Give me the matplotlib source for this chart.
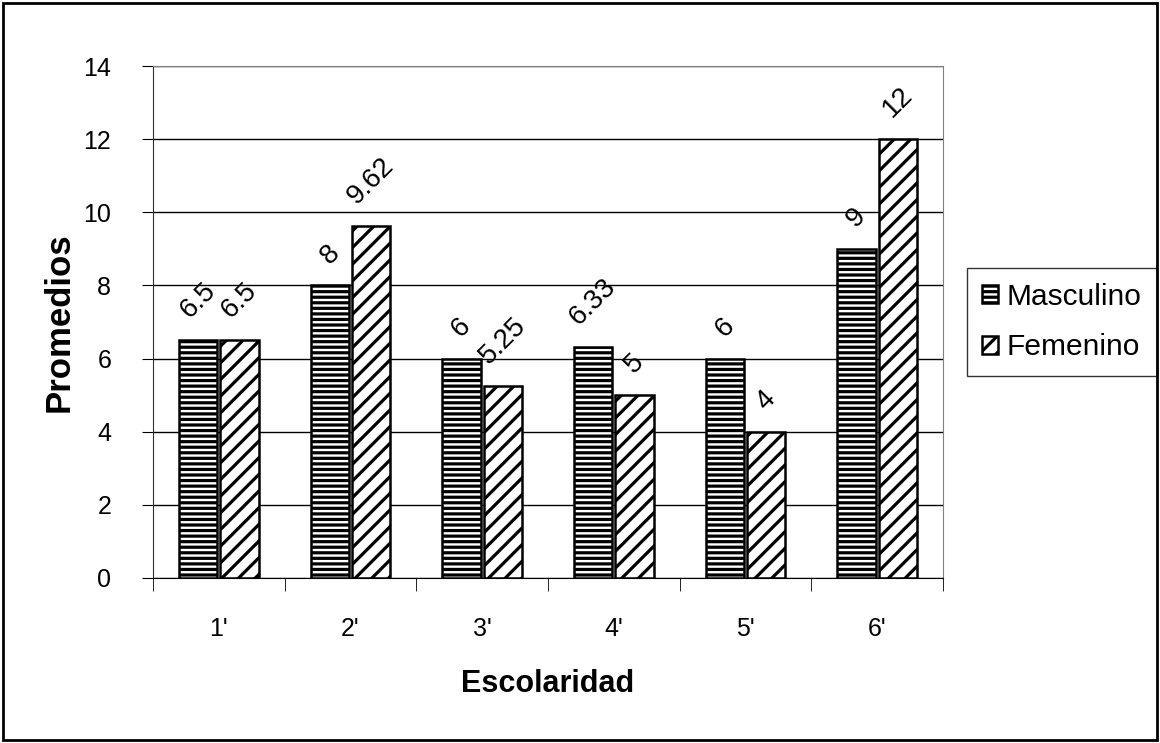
import numpy as np
import matplotlib.pyplot as plt
from matplotlib.patches import Rectangle

plt.rcParams['font.family'] = ['Liberation Sans', 'DejaVu Sans']
plt.rcParams['hatch.linewidth'] = 2.3

categorias = ["1'", "2'", "3'", "4'", "5'", "6'"]
masculino = [6.5, 8, 6, 6.33, 6, 9]
femenino = [6.5, 9.62, 5.25, 5, 4, 12]
etiq_masc = ["6.5", "8", "6", "6.33", "6", "9"]
etiq_fem = ["6.5", "9.62", "5.25", "5", "4", "12"]

fig = plt.figure(figsize=(11.6, 7.43), dpi=100)
ax = fig.add_axes([0.1319, 0.2221, 0.681, 0.689])

x = np.arange(len(categorias))
w = 0.29
gap = 0.012
b1 = ax.bar(x - w / 2 - gap, masculino, w, color='white', edgecolor='black',
            hatch='---', linewidth=1.8, label='Masculino', zorder=3)
b2 = ax.bar(x + w / 2 + gap, femenino, w, color='white', edgecolor='black',
            hatch='//', linewidth=1.8, label='Femenino', zorder=3)

for bars, labels in ((b1, etiq_masc), (b2, etiq_fem)):
    for r, t in zip(bars, labels):
        ax.annotate(t, (r.get_x() + r.get_width() / 2, r.get_height()),
                    xytext=(0, 12), textcoords='offset points',
                    ha='center', va='bottom', rotation=45, fontsize=20)

ax.set_ylim(0, 14)
ax.set_xlim(-0.5, len(categorias) - 0.5)
ax.set_yticks(np.arange(0, 15, 2))
ax.yaxis.grid(True, color='black', linewidth=1)
ax.set_axisbelow(True)

ax.set_xticks(x)
ax.set_xticklabels(categorias, fontsize=18)
ax.tick_params(axis='x', length=0, pad=28)
ax.set_xticks(np.arange(-0.5, len(categorias)), minor=True)
ax.tick_params(axis='x', which='minor', length=9, direction='out')
ax.tick_params(axis='y', labelsize=18, length=8, direction='out', pad=22)

for s in ('top', 'right'):
    ax.spines[s].set_color('#808080')
ax.spines['left'].set_color('#303030')
ax.spines['bottom'].set_color('black')

ax.set_ylabel('Promedios', fontsize=25, fontweight='bold', labelpad=6)
ax.set_xlabel('Escolaridad', fontsize=22, fontweight='bold', labelpad=20)

leg = ax.legend(loc='center left', bbox_to_anchor=(1.03, 0.5), fontsize=21.5,
                frameon=True, fancybox=False, edgecolor='black',
                handlelength=0.55, handleheight=0.55, handletextpad=0.3,
                borderpad=0.5, labelspacing=0.75, borderaxespad=0)
leg.get_frame().set_linewidth(1)

fig.patches.append(Rectangle((0.003, 0.004), 0.994, 0.992, transform=fig.transFigure,
                             fill=False, edgecolor='black', linewidth=2))

fig.savefig('out.png', dpi=100)
